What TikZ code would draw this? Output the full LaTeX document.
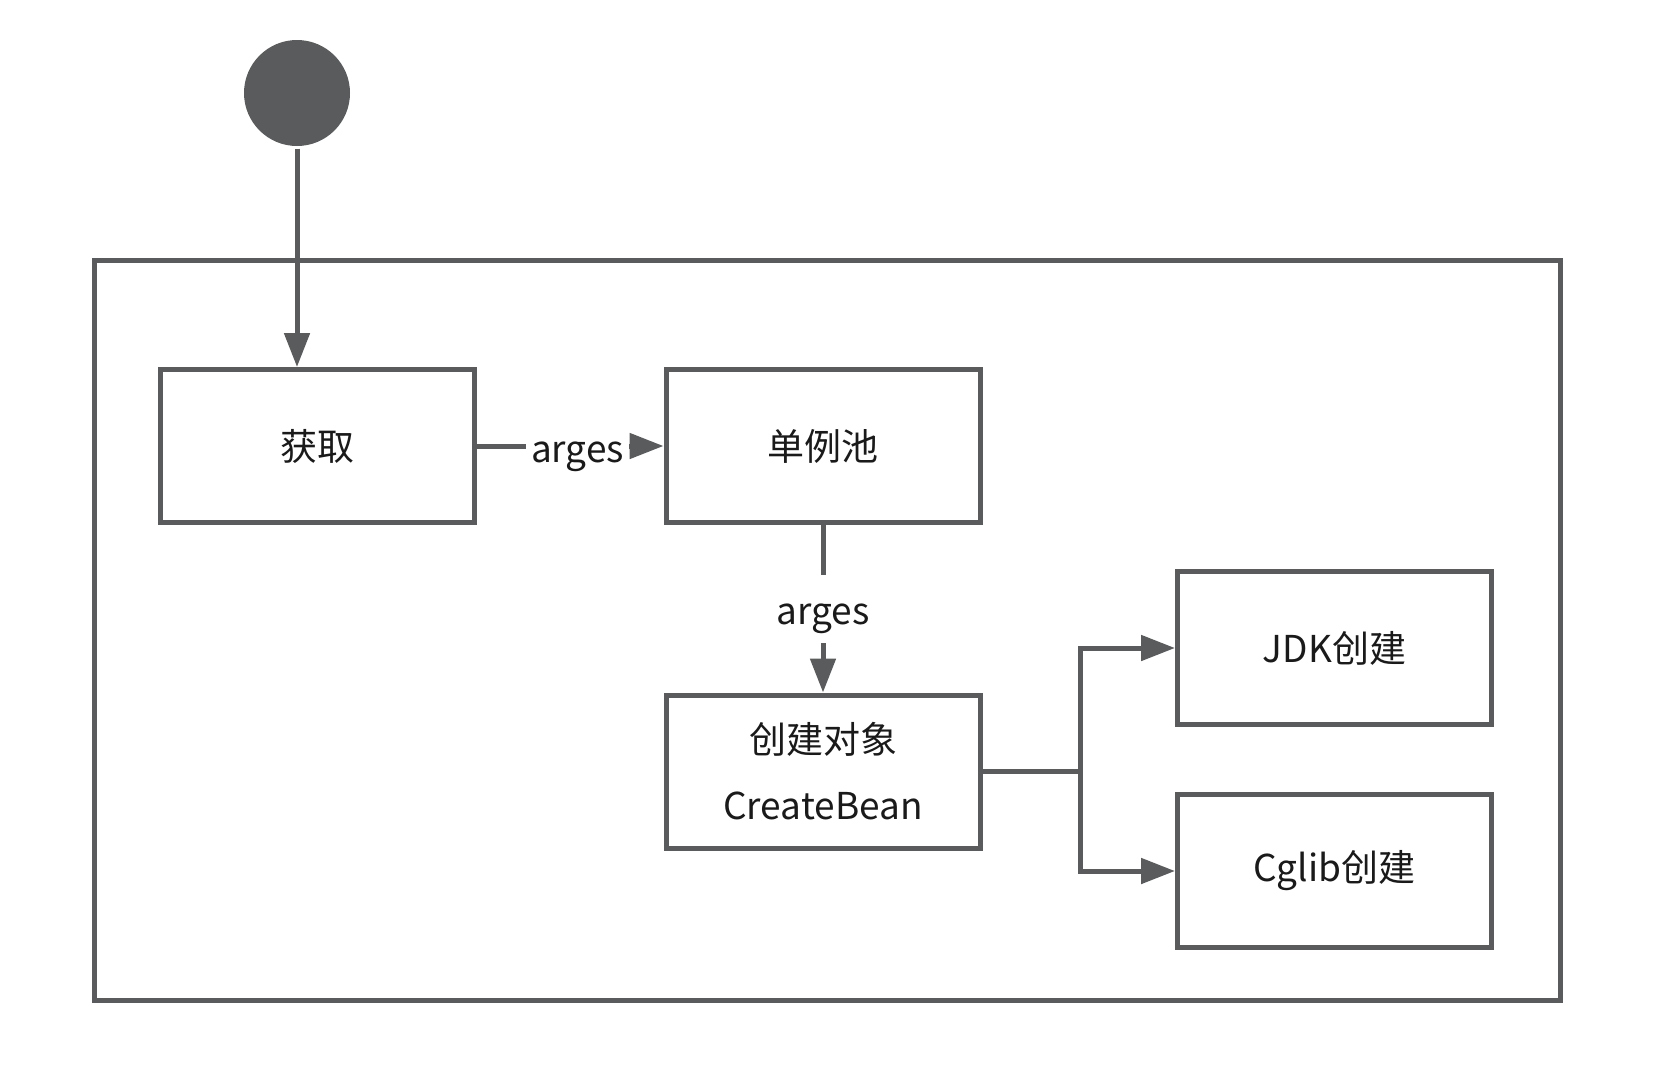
\documentclass[tikz,border=0pt]{standalone}
\usepackage{fontspec}
\setmainfont{Noto Sans CJK SC}
\usetikzlibrary{arrows.meta}
\definecolor{linegray}{HTML}{595B5C}
\definecolor{textgray}{HTML}{1A1A1A}
\tikzset{
  box/.style={draw=linegray,line width=5pt,minimum width=314pt,minimum height=153pt,
    inner sep=0pt,text=textgray,align=center,font=\fontsize{37}{44}\selectfont},
  lbl/.style={fill=white,text=textgray,inner xsep=5pt,inner ysep=18pt,
    text height=32pt,text depth=0pt,font=\fontsize{37}{44}\selectfont}
}
\begin{document}
\begin{tikzpicture}[x=1pt,y=-1pt,>={Triangle[length=34pt,width=25pt]},line width=5pt]
\useasboundingbox (0,0) rectangle (1661,1066);
\draw[linegray] (94,260) rectangle (1560,1000);
\node[circle,fill=linegray,minimum size=106pt,inner sep=0pt] (start) at (297,93) {};
\node[box] (get) at (317,446) {获取};
\node[box] (pool) at (823,446) {单例池};
\node[box] (create) at (823,771.5) {创建对象\\[22pt]CreateBean};
\node[box] (jdk) at (1334.5,648) {JDK创建};
\node[box] (cglib) at (1334.5,871) {Cglib创建};
\coordinate (fork) at ([xshift=98pt]create.east);
\draw[linegray,->] (start) -- (start |- get.north);
\draw[linegray,->] (get) -- node[lbl,pos=.54]{arges} (pool);
\draw[linegray,->] (pool) -- node[lbl]{arges} (create);
\draw[linegray,->] (create.east) -- (fork) |- (jdk.west);
\draw[linegray,->] (fork) |- (cglib.west);
\end{tikzpicture}
\end{document}
